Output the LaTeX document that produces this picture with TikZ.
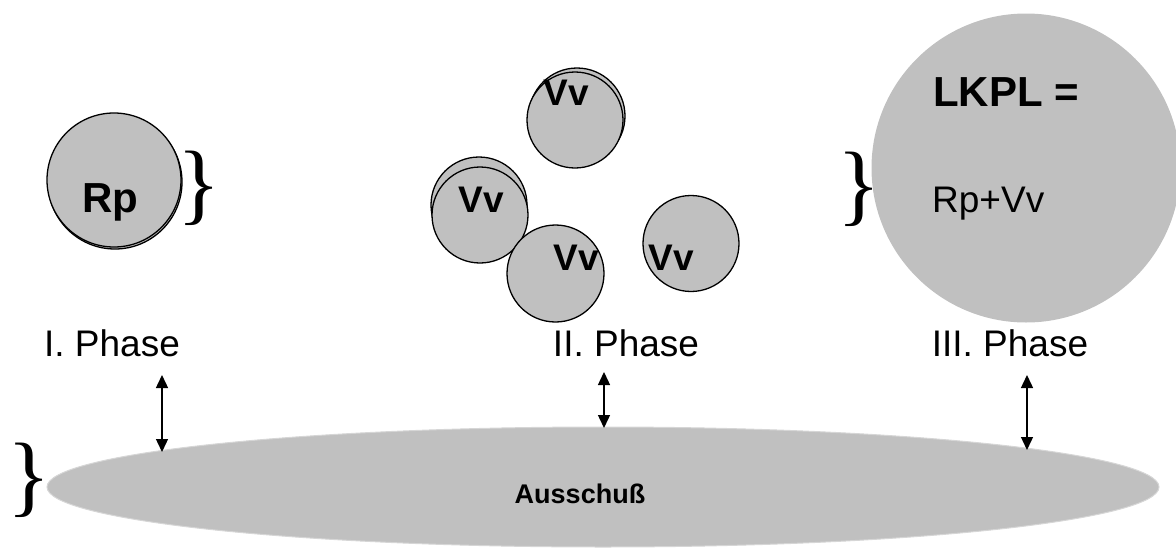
\documentclass[tikz,border=0pt]{standalone}
\usepackage{fontspec}
\setmainfont{Liberation Sans}
\newfontfamily\bracefont{Liberation Serif}
\usetikzlibrary{arrows.meta}
\definecolor{ballgray}{HTML}{C0C0C0}
\definecolor{rimgray}{HTML}{D6D6D6}
\tikzset{
  ball/.style={fill=ballgray, draw=black, line width=1.3pt},
  bigball/.style={fill=ballgray, draw=none},
  boldlbl/.style={inner sep=0pt, anchor=base, font=\bfseries\fontsize{#1}{#1}\selectfont},
  plainlbl/.style={inner sep=0pt, anchor=base, font=\fontsize{#1}{#1}\selectfont},
  brace/.style={inner sep=0pt, font=\bracefont\fontsize{90}{90}\selectfont},
  link/.style={line width=1.4pt, {Triangle[length=13pt,width=12pt]}-{Triangle[length=13pt,width=12pt]}}
}
\begin{document}
\begin{tikzpicture}[x=1pt,y=-1pt]
\useasboundingbox (0,0) rectangle (1176,549);
\clip (0,0) rectangle (1176,549);

% phase I: the single particle
\draw[ball] (115,182) circle (67);
\draw[ball] (114,180) circle (67);
\node[boldlbl=42] (rp) at (110,212) {Rp};
\node[brace] (b1) at (199,188) {\}};

% phase II: scattered particles
\draw[ball] (577,116) circle (48);
\draw[ball] (575,120) circle (48);
\draw[ball] (479,205) circle (48);
\draw[ball] (480,215) circle (48);
\draw[ball] (555.5,273.5) circle (48.5);
\draw[ball] (691,243.5) circle (48);
\node[boldlbl=37] (v1) at (566,105) {Vv};
\node[boldlbl=37] (v2) at (481,212) {Vv};
\node[boldlbl=37] (v3) at (576,270) {Vv};
\node[boldlbl=37] (v4) at (671,270) {Vv};

% phase III: the agglomerate
\fill[bigball] (1026,168) circle (154.5);
\node[boldlbl=42, anchor=base west] (lkpl) at (933,106) {LKPL =};
\node[plainlbl=37, anchor=base west] (sum) at (932,212) {Rp+Vv};
\node[brace] (b3) at (859,189) {\}};

% phase labels
\node[plainlbl=37] (p1) at (112,356) {I. Phase};
\node[plainlbl=37] (p2) at (626,356) {II. Phase};
\node[plainlbl=37] (p3) at (1010,356) {III. Phase};

% waste pool
\draw[fill=ballgray, draw=rimgray, line width=1pt] (603,487) ellipse (556 and 60);
\node[boldlbl=27] (aus) at (580,503) {Ausschuß};
\node[brace] (b0) at (29,480) {\}};

% exchange arrows
\coordinate (a1t) at (162,375); \coordinate (a1b) at (162,452);
\coordinate (a2t) at (604,372); \coordinate (a2b) at (604,428);
\coordinate (a3t) at (1027,375); \coordinate (a3b) at (1027,450);
\draw[link] (a1t) -- (a1b);
\draw[link] (a2t) -- (a2b);
\draw[link] (a3t) -- (a3b);
\end{tikzpicture}
\end{document}
